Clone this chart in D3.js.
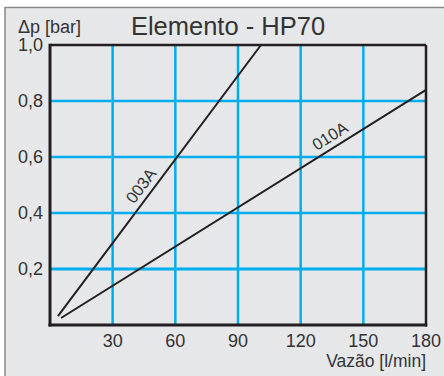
<!DOCTYPE html>
<html>
<head>
<meta charset="utf-8">
<script src="https://cdn.jsdelivr.net/npm/d3@7"></script>
<style>
  body { margin: 0; background: #fff; }
  text { font-family: "Liberation Sans", Arial, sans-serif; fill: #333; }
</style>
</head>
<body>
<div id="grafik"></div>
<script>
// vrijednosti ocitane sa slike
const xTicks = [30, 60, 90, 120, 150, 180];
const yTicks = [0.2, 0.4, 0.6, 0.8, 1.0];
const yLabels = ["0,2", "0,4", "0,6", "0,8", "1,0"];

const serije = ["003A", "010A"];
const protok003A = [3.8, 101];
const dp003A = [0.032, 1.0];
const protok010A = [5.3, 180];
const dp010A = [0.025, 0.84];
const labelX = [48, 137];

const W = 444, H = 376;
const margin = { top: 45, right: 18, bottom: 51, left: 50 };
const width = W - margin.left - margin.right,
      height = H - margin.top - margin.bottom;

const svg = d3.select("#grafik")
    .append("svg")
    .attr("width", W)
    .attr("height", H);

// pozadina i okvir
svg.append("rect")
    .attr("x", 5).attr("y", 7.5)
    .attr("width", W).attr("height", H)
    .attr("fill", "#e6e7e8")
    .attr("stroke", "#8a8a8a")
    .attr("stroke-width", 1.5);

const g = svg.append("g")
    .attr("transform", "translate(" + margin.left + "," + margin.top + ")");

const x = d3.scaleLinear().domain([0, 180]).range([0, width]);
const y = d3.scaleLinear().domain([0, 1]).range([height, 0]);

// mreza
g.selectAll(".vgrid")
    .data(xTicks.filter(d => d < 180))
    .enter()
    .append("line")
    .attr("x1", d => x(d)).attr("x2", d => x(d))
    .attr("y1", 0).attr("y2", height)
    .attr("stroke", "#00aeef")
    .attr("stroke-width", 2.5);

g.selectAll(".hgrid")
    .data(yTicks.filter(d => d < 1))
    .enter()
    .append("line")
    .attr("x1", 0).attr("x2", width)
    .attr("y1", d => y(d)).attr("y2", d => y(d))
    .attr("stroke", "#00aeef")
    .attr("stroke-width", d => d === 0.2 ? 3 : 2.5);

// okvir grafa
g.append("line").attr("x1", 0).attr("x2", width).attr("y1", y(1)).attr("y2", y(1))
    .attr("stroke", "#231f20").attr("stroke-width", 2.5);
g.append("line").attr("x1", x(180)).attr("x2", x(180)).attr("y1", 0).attr("y2", height + 1.5)
    .attr("stroke", "#231f20").attr("stroke-width", 2.5);
g.append("line").attr("x1", 0).attr("x2", 0).attr("y1", -1.2).attr("y2", height + 1.5)
    .attr("stroke", "#231f20").attr("stroke-width", 3);
g.append("line").attr("x1", -1.5).attr("x2", width + 1.2).attr("y1", height).attr("y2", height)
    .attr("stroke", "#231f20").attr("stroke-width", 3);

// oznake osi
g.selectAll(".xlab")
    .data(xTicks)
    .enter()
    .append("text")
    .attr("x", d => x(d))
    .attr("y", height + 22)
    .attr("text-anchor", "middle")
    .style("font-size", "18px")
    .text(d => d);

g.selectAll(".ylab")
    .data(yTicks)
    .enter()
    .append("text")
    .attr("x", -7)
    .attr("y", d => y(d))
    .attr("dy", "0.35em")
    .attr("text-anchor", "end")
    .style("font-size", "18px")
    .text((d, i) => yLabels[i]);

svg.append("text")
    .attr("x", margin.left + width)
    .attr("y", 367)
    .attr("text-anchor", "end")
    .style("font-size", "17.5px")
    .text("Vazão [l/min]");

svg.append("text")
    .attr("x", 18)
    .attr("y", 33)
    .style("font-size", "18px")
    .text("Δp [bar]");

svg.append("text")
    .attr("x", 228)
    .attr("y", 35)
    .attr("text-anchor", "middle")
    .style("font-size", "25.5px")
    .text("Elemento - HP70");

// krivulje
const podaci = [
    protok003A.map((d, i) => ({ q: d, dp: dp003A[i] })),
    protok010A.map((d, i) => ({ q: d, dp: dp010A[i] }))
];

const linija = d3.line().x(d => x(d.q)).y(d => y(d.dp));

g.selectAll(".krivulja")
    .data(podaci)
    .enter()
    .append("path")
    .attr("d", linija)
    .attr("fill", "none")
    .attr("stroke", "#231f20")
    .attr("stroke-width", 2);

podaci.forEach((p, i) => {
    const a = p[0], b = p[1];
    const t = (labelX[i] - a.q) / (b.q - a.q);
    const dpL = a.dp + t * (b.dp - a.dp);
    const kut = Math.atan2(y(b.dp) - y(a.dp), x(b.q) - x(a.q)) * 180 / Math.PI;
    g.append("text")
        .attr("transform", "translate(" + x(labelX[i]) + "," + y(dpL) + ")rotate(" + kut + ")")
        .attr("y", -6)
        .attr("text-anchor", "middle")
        .style("font-size", "16.5px")
        .text(serije[i]);
});
</script>
</body>
</html>
